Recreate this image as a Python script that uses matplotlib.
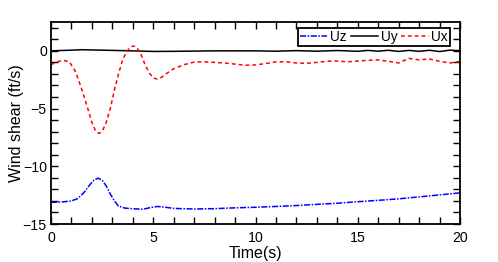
import numpy as np
import matplotlib.pyplot as plt
from matplotlib.ticker import MultipleLocator

plt.rcParams["font.family"] = ["Liberation Sans", "DejaVu Sans"]

# Ux (red dashed)
t_ux = [0, 0.3, 0.6, 0.9, 1.2, 1.5, 1.8, 2.0, 2.2, 2.35, 2.5, 2.7, 2.9, 3.1, 3.3,
        3.5, 3.7, 3.9, 4.05, 4.2, 4.4, 4.6, 4.8, 5.0, 5.2, 5.4, 5.7, 6.0, 6.5, 7.0,
        7.5, 8.0, 8.5, 9.0, 9.5, 10.0, 10.5, 11.0, 11.5, 12.0, 12.5, 13.0, 13.5,
        14.0, 14.5, 15.0, 15.5, 16.0, 16.5, 17.0, 17.5, 18.0, 18.5, 19.0, 19.5, 20.0]
ux = [-1.2, -0.95, -0.82, -0.95, -1.8, -3.3, -5.0, -6.2, -7.0, -7.15, -7.0, -6.2,
      -5.0, -3.4, -2.0, -0.8, -0.05, 0.35, 0.42, 0.3, -0.3, -1.2, -1.9, -2.35,
      -2.45, -2.3, -1.9, -1.55, -1.2, -0.97, -0.95, -1.0, -1.05, -1.15, -1.25,
      -1.22, -1.1, -0.95, -0.95, -1.05, -1.08, -1.0, -0.9, -0.88, -0.95, -0.88,
      -0.82, -0.78, -0.9, -1.05, -0.65, -0.78, -0.7, -0.9, -1.05, -0.92]

# Uy (black solid)
t_uy = [0, 0.5, 1.0, 1.5, 2.0, 3.0, 4.0, 5.0, 6.0, 7.0, 8.0, 10.0, 11.0, 12.0,
        13.0, 14.0, 15.0, 15.5, 16.0, 16.5, 17.0, 17.5, 18.0, 18.5, 19.0, 19.5, 20.0]
uy = [0.0, 0.03, 0.06, 0.1, 0.08, 0.04, 0.0, -0.05, -0.04, -0.02, 0.0, 0.0,
      -0.03, 0.02, -0.03, 0.03, -0.04, 0.04, -0.03, 0.05, -0.05, 0.04, -0.04,
      0.05, -0.06, 0.06, 0.02]

# Uz (blue dash-dot)
t_uz = [0, 0.5, 1.0, 1.3, 1.6, 1.9, 2.1, 2.3, 2.5, 2.7, 2.9, 3.1, 3.3, 3.6, 4.0,
        4.5, 4.8, 5.2, 5.6, 6.0, 7.0, 8.0, 9.0, 10.0, 11.0, 12.0, 13.0, 14.0,
        15.0, 16.0, 17.0, 18.0, 19.0, 20.0]
uz = [-13.12, -13.1, -13.0, -12.8, -12.3, -11.6, -11.2, -11.03, -11.2, -11.7,
      -12.4, -13.0, -13.45, -13.62, -13.68, -13.72, -13.6, -13.48, -13.55,
      -13.65, -13.7, -13.67, -13.6, -13.55, -13.48, -13.4, -13.3, -13.2,
      -13.07, -12.95, -12.82, -12.65, -12.48, -12.3]

fig = plt.figure(figsize=(4.98, 2.62), dpi=100)
ax = fig.add_axes([51 / 498, 1 - 224 / 262, 409 / 498, 202 / 262])

ax.plot(t_uz, uz, color="blue", linestyle=(0, (4, 1, 1, 1)), linewidth=1.1, label="Uz")
ax.plot(t_uy, uy, color="black", linestyle="-", linewidth=1.1, label="Uy")
ax.plot(t_ux, ux, color="red", linestyle=(0, (2.5, 2)), linewidth=1.1, label="Ux")

ax.set_xlim(0, 20)
ax.set_ylim(-15, 2.5)
ax.xaxis.set_major_locator(MultipleLocator(5))
ax.xaxis.set_minor_locator(MultipleLocator(1))
ax.yaxis.set_major_locator(MultipleLocator(5))
ax.yaxis.set_minor_locator(MultipleLocator(1))
ax.tick_params(which="both", direction="in", top=True, right=True,
               length=5, width=1, labelsize=10.2)
ax.tick_params(axis="x", pad=5)
ax.tick_params(axis="y", pad=3)
for s in ax.spines.values():
    s.set_linewidth(1.3)

ax.set_xlabel("Time(s)", fontsize=11.5)
ax.set_ylabel("Wind shear (ft/s)", fontsize=11.5)
ax.yaxis.set_label_coords(-0.065, 0.5)
ax.xaxis.set_label_coords(0.5, -0.11)

leg = ax.legend(loc="upper right", bbox_to_anchor=(399 / 409, 196 / 202),
                ncol=3, fontsize=9.8, fancybox=False,
                framealpha=1, edgecolor="black", handlelength=2,
                handletextpad=0.2, columnspacing=0.3, borderpad=0.15,
                borderaxespad=0)
leg.get_frame().set_linewidth(1.3)

fig.savefig("out.png", dpi=100)
